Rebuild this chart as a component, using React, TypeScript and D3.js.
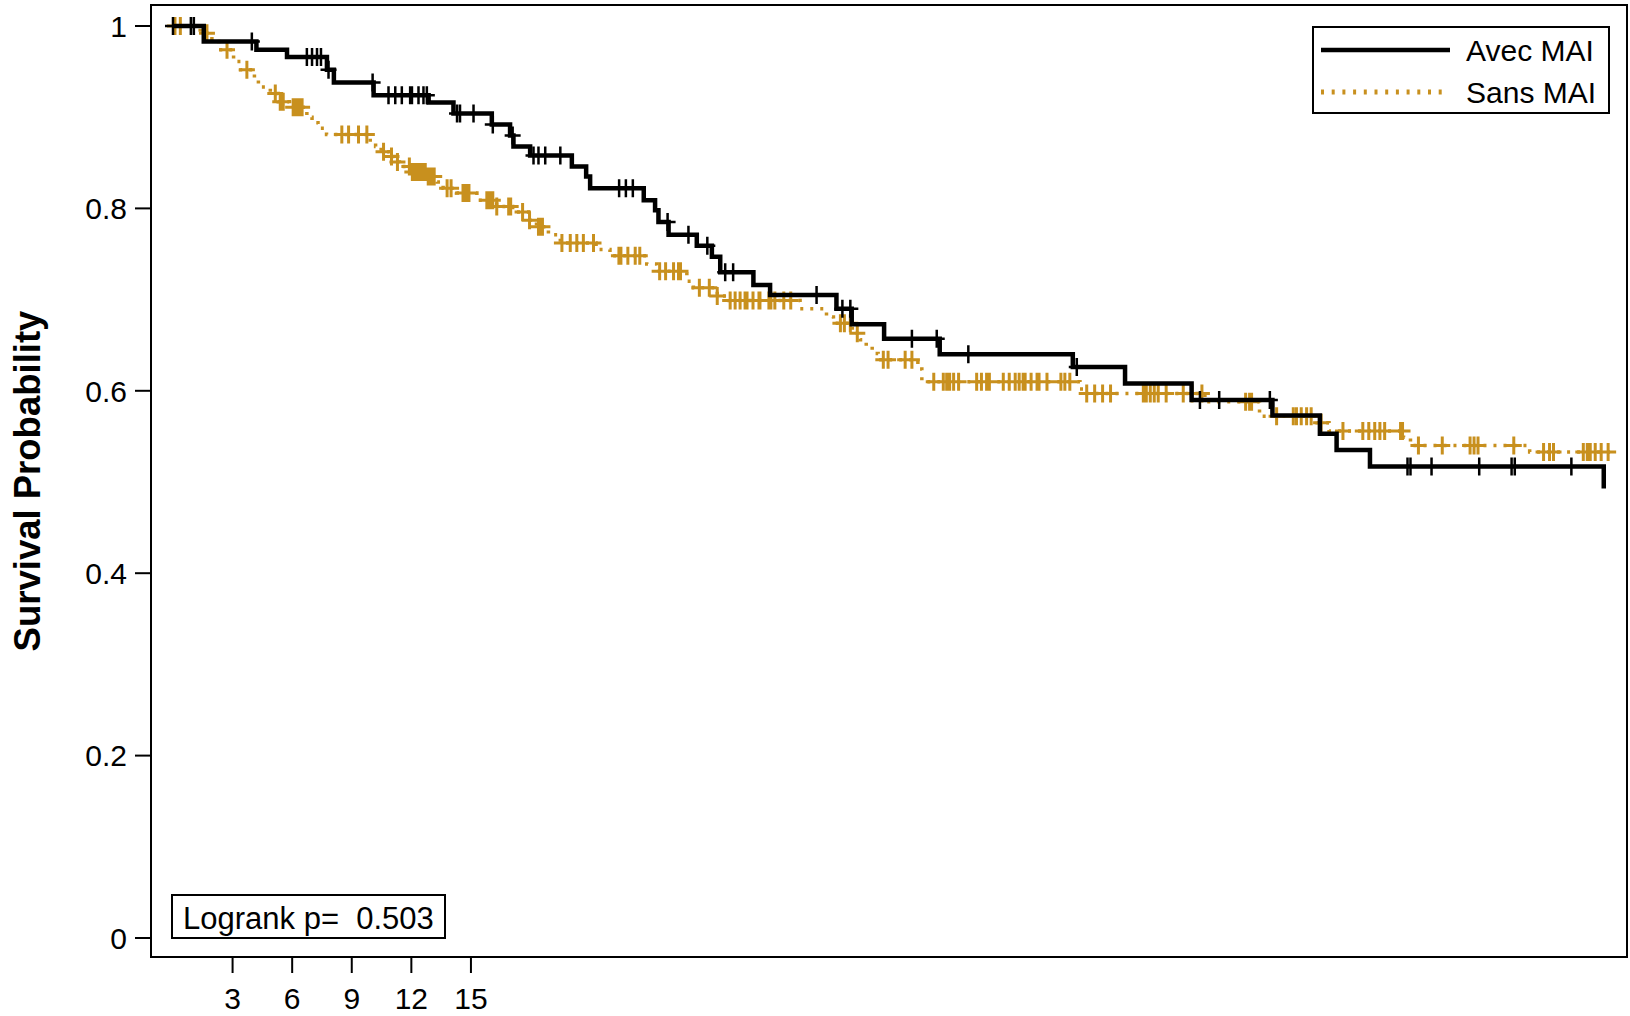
import * as d3 from 'd3';

// Kaplan-Meier: courbes en escalier + marques de censure "+"
const W = 1630;
const H = 1016;
const FRAME = { left: 151, right: 1627, top: 5, bottom: 957 };
const FONT = '"Liberation Sans", Arial, sans-serif';
const GOLD = '#C8901E';

const xTicks = [3, 6, 9, 12, 15];
const yTicks = [0, 0.2, 0.4, 0.6, 0.8, 1];
const yTickLabels = ['0', '0.2', '0.4', '0.6', '0.8', '1'];
const seriesNames = ['Avec MAI', 'Sans MAI'];
const pValue = '0.503';

// [temps, survie] après chaque événement
const avecSteps: [number, number][] = [
  [0, 1], [1.55, 0.983], [4.2, 0.974], [5.74, 0.966], [7.75, 0.952], [8.1, 0.938],
  [10.1, 0.924], [12.87, 0.916], [14.12, 0.904], [16.05, 0.892], [16.97, 0.88],
  [17.14, 0.868], [17.98, 0.858], [20.08, 0.846], [20.8, 0.835], [21.0, 0.822],
  [23.7, 0.809], [24.27, 0.798], [24.44, 0.785], [24.95, 0.771], [26.37, 0.759],
  [27.13, 0.747], [27.55, 0.73], [29.22, 0.716], [30.06, 0.705], [33.4, 0.69],
  [34.17, 0.673], [35.8, 0.657], [38.6, 0.64], [45.3, 0.626], [47.93, 0.608],
  [51.28, 0.59], [55.35, 0.573], [57.74, 0.553], [58.58, 0.535], [60.26, 0.517],
  [72.03, 0.493],
];
const avecCensored = [
  0.0, 0.9, 1.05, 3.97, 6.74, 7.0, 7.25, 7.45, 7.83, 10.05, 10.85, 11.19, 11.52,
  11.94, 12.03, 12.36, 12.61, 12.78, 14.3, 14.45, 15.13, 16.1, 17.1, 18.15, 18.4,
  18.74, 19.5, 22.46, 22.8, 23.15, 24.9, 25.95, 26.9, 27.8, 28.2, 32.4, 33.7, 34.1,
  37.2, 38.45, 40.04, 45.5, 51.7, 52.67, 55.22, 62.15, 62.3, 63.36, 65.76, 67.39,
  67.55, 70.4,
];
const avecEnd = 72.03;

const sansSteps: [number, number][] = [
  [0, 1], [1.37, 0.992], [1.96, 0.983], [2.3, 0.974], [3.05, 0.961], [3.4, 0.952],
  [4.1, 0.943], [4.3, 0.933], [4.9, 0.926], [5.3, 0.917], [5.85, 0.911], [6.74, 0.9],
  [7.0, 0.894], [7.3, 0.888], [7.73, 0.881], [9.93, 0.873], [10.2, 0.868],
  [10.48, 0.862], [10.9, 0.857], [11.15, 0.851], [11.4, 0.846], [12.0, 0.84],
  [12.8, 0.835], [13.3, 0.829], [13.6, 0.822], [14.27, 0.817], [15.3, 0.809],
  [16.3, 0.802], [17.1, 0.796], [17.9, 0.787], [18.3, 0.78], [18.9, 0.771],
  [19.5, 0.762], [21.3, 0.755], [22.0, 0.748], [23.85, 0.739], [24.35, 0.731],
  [25.87, 0.72], [26.2, 0.713], [27.4, 0.704], [28.0, 0.699], [31.57, 0.69],
  [32.9, 0.681], [33.25, 0.674], [34.2, 0.663], [34.6, 0.656], [34.9, 0.649],
  [35.2, 0.641], [35.5, 0.634], [37.5, 0.624], [37.7, 0.61], [45.66, 0.602],
  [46.0, 0.597], [51.95, 0.588], [54.7, 0.572], [57.6, 0.565], [58.2, 0.556],
  [61.95, 0.549], [62.3, 0.54], [68.3, 0.533],
];
const sansCensored = [
  0.1, 0.37, 1.71, 2.72, 3.72, 5.15, 5.4, 5.55, 6.05, 6.2, 6.35, 6.5, 8.5, 8.84,
  9.34, 9.76, 10.6, 11.0, 11.3, 11.9, 12.05, 12.2, 12.35, 12.45, 12.55, 12.7, 12.85,
  13.0, 13.15, 13.8, 14.0, 14.6, 14.7, 14.8, 14.9, 15.8, 15.95, 16.1, 16.3, 16.9,
  17.0, 17.6, 17.95, 18.4, 18.5, 18.6, 19.58, 20.0, 20.33, 20.66, 21.17, 22.45,
  22.55, 22.9, 23.27, 23.5, 24.5, 24.8, 25.2, 25.45, 25.55, 26.5, 27.0, 27.4, 28.05,
  28.3, 28.55, 28.8, 28.9, 29.2, 29.5, 29.55, 30.0, 30.1, 30.3, 30.75, 31.1, 33.6,
  33.8, 34.1, 34.45, 35.76, 36.0, 36.86, 37.2, 38.3, 38.78, 38.95, 39.1, 39.3, 39.55,
  40.46, 40.7, 40.96, 41.1, 41.8, 42.1, 42.4, 42.6, 42.8, 42.9, 43.2, 43.5, 43.6,
  44.0, 44.7, 44.9, 45.15, 46.0, 46.4, 46.8, 47.2, 48.85, 49.0, 49.2, 49.4, 49.6,
  50.0, 50.86, 51.3, 51.8, 54.0, 54.2, 54.3, 55.56, 56.4, 56.56, 56.8, 57.07, 57.3,
  57.8, 58.9, 59.9, 60.2, 60.5, 60.76, 61.0, 61.8, 61.9, 62.7, 63.9, 65.3, 65.5,
  65.7, 67.5, 69.0, 69.3, 69.5, 71.0, 71.2, 71.35, 71.6, 71.9, 72.25,
];
const sansEnd = 72.6;

const x = d3.scaleLinear().domain([-1.107, 73.2]).range([FRAME.left, FRAME.right]);
const y = d3.scaleLinear().domain([0, 1]).range([938, 26]);

const stepLine = d3
  .line<[number, number]>()
  .x((d) => x(d[0]))
  .y((d) => y(d[1]))
  .curve(d3.curveStepAfter);

const bisect = d3.bisector((d: [number, number]) => d[0]).right;
function survAt(steps: [number, number][], t: number) {
  const i = Math.max(0, bisect(steps, t) - 1);
  return steps[i][1];
}

function withEnd(steps: [number, number][], end: number): [number, number][] {
  const last = steps[steps.length - 1];
  return last[0] >= end ? steps : [...steps, [end, last[1]]];
}

function censorPath(steps: [number, number][], times: number[]) {
  return times
    .map((t) => {
      const cx = x(t);
      const cy = y(survAt(steps, t));
      return `M${cx - 8},${cy}h16M${cx},${cy - 9}v18`;
    })
    .join('');
}

export default function App() {
  const textStyle = { fontFamily: FONT, fontSize: 30, fill: '#000' };
  return (
    <>
      <style>{'body{margin:0}'}</style>
      <svg width={W} height={H} style={{ display: 'block', background: '#fff' }}>
        {/* courbes */}
        <path
          d={stepLine(withEnd(sansSteps, sansEnd)) ?? ''}
          fill="none"
          stroke={GOLD}
          strokeWidth={3.5}
          strokeDasharray="3 7"
        />
        <path d={censorPath(sansSteps, sansCensored)} stroke={GOLD} strokeWidth={3} fill="none" />
        <path
          d={stepLine(withEnd(avecSteps, avecEnd)) ?? ''}
          fill="none"
          stroke="#000"
          strokeWidth={4.5}
        />
        <path d={censorPath(avecSteps, avecCensored)} stroke="#000" strokeWidth={2.5} fill="none" />

        {/* cadre */}
        <rect
          x={FRAME.left}
          y={FRAME.top}
          width={FRAME.right - FRAME.left}
          height={FRAME.bottom - FRAME.top}
          fill="none"
          stroke="#000"
          strokeWidth={2}
        />

        {/* axe Y */}
        {yTicks.map((v, i) => (
          <g key={`y${v}`}>
            <line x1={135} x2={FRAME.left} y1={y(v)} y2={y(v)} stroke="#000" strokeWidth={2} />
            <text x={127} y={y(v)} dy="0.36em" textAnchor="end" style={textStyle}>
              {yTickLabels[i]}
            </text>
          </g>
        ))}
        <text
          transform={`translate(40,${(FRAME.top + FRAME.bottom) / 2}) rotate(-90)`}
          textAnchor="middle"
          style={{ fontFamily: FONT, fontSize: 36.5, fontWeight: 'bold' }}
        >
          Survival Probability
        </text>

        {/* axe X */}
        {xTicks.map((v) => (
          <g key={`x${v}`}>
            <line x1={x(v)} x2={x(v)} y1={FRAME.bottom} y2={973} stroke="#000" strokeWidth={2} />
            <text x={x(v)} y={1009} textAnchor="middle" style={textStyle}>
              {v}
            </text>
          </g>
        ))}

        {/* légende */}
        <rect x={1313} y={27} width={296} height={86} fill="#fff" stroke="#000" strokeWidth={2} />
        <line x1={1321} x2={1450} y1={50} y2={50} stroke="#000" strokeWidth={4.5} />
        <line x1={1321} x2={1445} y1={92} y2={92} stroke={GOLD} strokeWidth={5} strokeDasharray="3 7.7" />
        <text x={1466} y={61} style={textStyle}>{seriesNames[0]}</text>
        <text x={1466} y={103} style={textStyle}>{seriesNames[1]}</text>

        {/* logrank */}
        <rect x={172} y={895} width={273} height={43} fill="#fff" stroke="#000" strokeWidth={2} />
        <text x={183} y={929} style={{ ...textStyle, fontSize: 31, whiteSpace: 'pre' }}>
          {`Logrank p=  ${pValue}`}
        </text>
      </svg>
    </>
  );
}
